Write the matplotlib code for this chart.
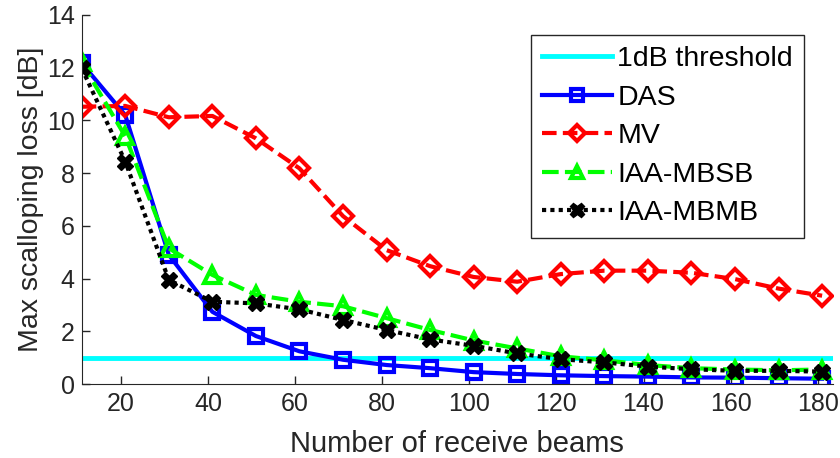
import matplotlib.pyplot as plt

plt.rcParams['font.family'] = ['Liberation Sans', 'DejaVu Sans']

# Number of receive beams
beams = [11, 21, 31, 41, 51, 61, 71, 81, 91, 101, 111, 121, 131, 141, 151, 161, 171, 181]

# Max scalloping loss [dB]
das = [12.17, 10.2, 4.9, 2.74, 1.82, 1.24, 0.92, 0.72, 0.6, 0.45, 0.38, 0.33, 0.3, 0.28, 0.25, 0.24, 0.22, 0.2]
mv = [10.52, 10.55, 10.12, 10.17, 9.32, 8.18, 6.37, 5.08, 4.47, 4.06, 3.88, 4.17, 4.3, 4.3, 4.22, 3.98, 3.62, 3.35]
iaa_mbsb = [12.2, 9.4, 5.15, 4.14, 3.38, 3.12, 2.95, 2.5, 2.05, 1.65, 1.35, 1.05, 0.9, 0.72, 0.6, 0.55, 0.52, 0.55]
iaa_mbmb = [11.98, 8.44, 3.95, 3.12, 3.06, 2.83, 2.43, 2.05, 1.69, 1.45, 1.16, 0.94, 0.82, 0.66, 0.56, 0.5, 0.5, 0.47]

threshold = 1.0

fig = plt.figure(figsize=(8.4, 4.58), dpi=100)
ax = fig.add_axes([81.7 / 840, 1 - 384 / 458, (833 - 81.7) / 840, (384 - 15) / 458])

ax.axhline(threshold, color='#00FFFF', lw=3.5, label='1dB threshold')
ax.plot(beams, das, color='blue', ls='-', lw=3, marker='s', ms=10, mew=3,
        mfc='none', label='DAS')
ax.plot(beams, mv, color='red', ls=(0, (3.5, 1.5)), lw=3, marker='D', ms=10, mew=3,
        mfc='none', label='MV')
ax.plot(beams, iaa_mbsb, color='#00FF00', ls=(0, (4, 1.5)), lw=3, marker='^', ms=11, mew=3,
        mfc='none', label='IAA-MBSB')
ax.plot(beams, iaa_mbmb, color='black', ls=(0, (1, 1)), lw=3, marker='X', ms=12, mew=1,
        label='IAA-MBMB')

ax.set_xlim(11, 183.5)
ax.set_ylim(0, 14)
ax.set_xticks(range(20, 181, 20))
ax.set_yticks(range(0, 15, 2))

gray = '#262626'
for side in ['top', 'right']:
    ax.spines[side].set_visible(False)
for side in ['left', 'bottom']:
    ax.spines[side].set_color(gray)
ax.tick_params(direction='in', length=6, colors=gray, labelsize=18, width=1)
ax.tick_params(axis='x', pad=6)
ax.tick_params(axis='y', pad=5)

ax.set_xlabel('Number of receive beams', fontsize=21, color=gray, labelpad=10)
ax.set_ylabel('Max scalloping loss [dB]', fontsize=20.5, color=gray, labelpad=2)

leg = ax.legend(loc='upper right', bbox_to_anchor=(0.962, 0.946), fontsize=20.5,
                frameon=True, fancybox=False, edgecolor=gray, framealpha=1,
                handlelength=2.45, handletextpad=0.2, borderpad=0.4, labelspacing=0.44,
                borderaxespad=0, markerscale=0.85)
leg.get_frame().set_linewidth(1)

fig.savefig('out.png', dpi=100)
